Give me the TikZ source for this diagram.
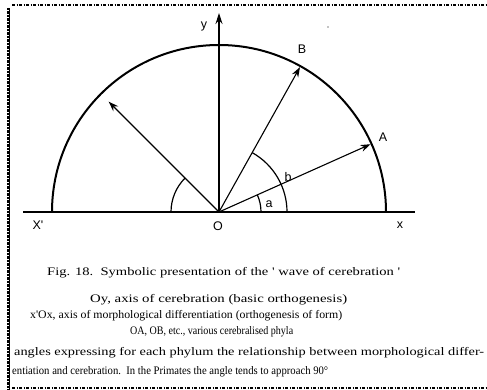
\documentclass[tikz,border=0pt]{standalone}
\usepackage{fontspec}
\setmainfont{Liberation Serif}
\newfontfamily\lblfont{Liberation Sans}
\usetikzlibrary{arrows.meta,calc}
\begin{document}
\begin{tikzpicture}[x=1pt,y=1pt,
  lbl/.style={font=\lblfont\fontsize{12.5}{12.5}\selectfont, inner sep=0},
  captxt/.style={font=\fontsize{11.5}{13}\selectfont, inner sep=0, anchor=west},
  ray/.style={line width=1.1pt, -{Stealth[length=10pt,width=7pt]}},
  angarc/.style={line width=1.2pt},
  framedash/.style={line width=1.2pt, dash pattern=on 3pt off 1.5pt on 1pt off 1.5pt},
  frameleft/.style={line width=2.4pt, dash pattern=on 2.5pt off 1pt}]
\useasboundingbox (0,0) rectangle (487,390);
\fill[white] (0,0) rectangle (487,390);
% frame
\draw[framedash] (12,385) -- (487,385);
\draw[framedash] (12,2) -- (487,2);
\draw[frameleft] (8,382) -- (8,0);
\draw[line width=0.8pt] (9,382) -- (9,0);
% geometry
\coordinate (O) at (219,178);
\coordinate (xl) at (23,178);
\coordinate (xr) at (415,178);
\coordinate (ytip) at (219,377);
\coordinate (tipL) at ($(O)+(135:156)$);
\coordinate (tipB) at ($(O)+(60.8:166)$);
\coordinate (tipA) at ($(O)+(24.1:166)$);
\draw[line width=2pt] (xl) -- (xr);
\draw[line width=2pt] ($(O)+(167,0)$) arc[start angle=0,end angle=180,radius=167];
\draw[line width=1.2pt, -{Stealth[length=11pt,width=7pt]}] (O) -- (ytip);
\draw[ray] (O) -- (tipL);
\draw[ray] (O) -- (tipB);
\draw[ray] (O) -- (tipA);
\draw[angarc] ($(O)+(135:48)$) arc[start angle=135,end angle=180,radius=48];
\draw[angarc] ($(O)+(42,0)$) arc[start angle=0,end angle=24.1,radius=42];
\draw[angarc] ($(O)+(68,0)$) arc[start angle=0,end angle=60.8,radius=68];
\fill (328,363) circle (0.7);
% labels
\node[lbl] (ly) at (204,363) {y};
\node[lbl] (lB) at (302,341) {B};
\node[lbl] (lA) at (383,253) {A};
\node[lbl] (lX) at (38,165) {X\textquotesingle};
\node[lbl] (lO) at (218,164) {O};
\node[lbl] (lx) at (400,165) {x};
\node[lbl] (la) at (269,186) {a};
\node[lbl] (lb) at (288,213) {b};
% caption
\node[captxt] (c0) at (47,117) {\resizebox{353pt}{\height}{Fig. 18.\ \ Symbolic presentation of the \textquotesingle\ wave of cerebration \textquotesingle}};
\node[captxt] (c1) at (90,90) {\resizebox{257pt}{\height}{Oy, axis of cerebration (basic orthogenesis)}};
\node[captxt] (c2) at (30,74) {\resizebox{312pt}{\height}{x\textquotesingle Ox, axis of morphological differentiation (orthogenesis of form)}};
\node[captxt] (c3) at (130,58) {\resizebox{163pt}{\height}{OA, OB, etc., various cerebralised phyla}};
\node[captxt] (c4) at (14,37) {\resizebox{470pt}{\height}{angles expressing for each phylum the relationship between morphological differ-}};
\node[captxt] (c5) at (12,18) {\resizebox{316pt}{\height}{entiation and cerebration.\ \ In the Primates the angle tends to approach 90°}};
\end{tikzpicture}
\end{document}
